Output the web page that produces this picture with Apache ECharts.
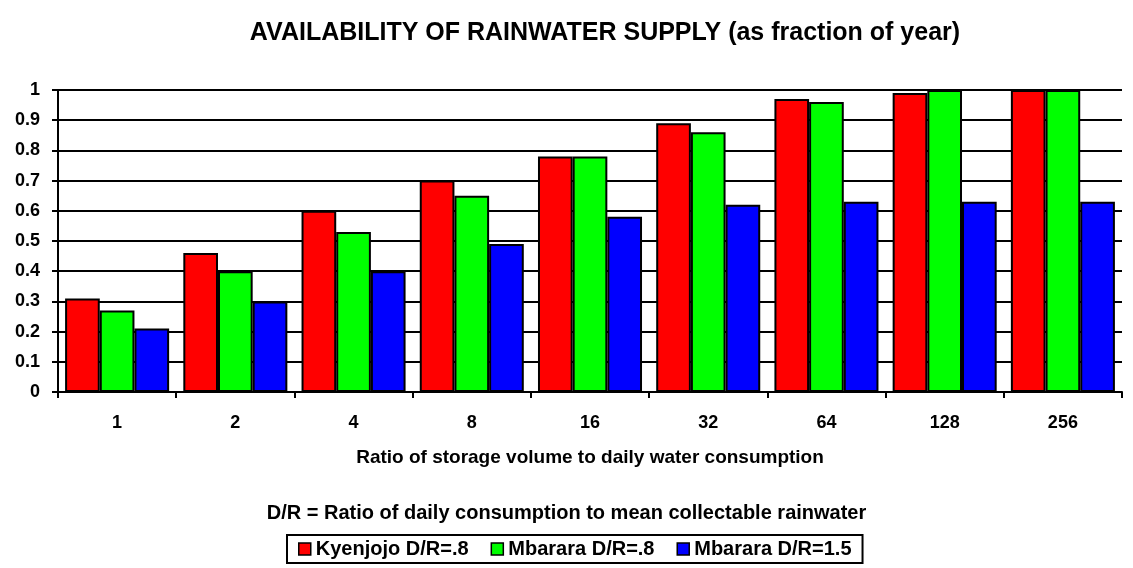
<!DOCTYPE html>
<html>
<head>
<meta charset="utf-8">
<script src="https://cdn.jsdelivr.net/npm/echarts@6/dist/echarts.min.js"></script>
<style>
  html, body { margin: 0; padding: 0; background: #fff; }
  #main { width: 1133px; height: 568px; }
</style>
</head>
<body>
<div id="main"></div>
<script>
// storage ratio categories
const ratios = ['1', '2', '4', '8', '16', '32', '64', '128', '256'];
const kyenjojo08 = [0.31, 0.46, 0.60, 0.70, 0.78, 0.89, 0.97, 0.99, 1.0];
const mbarara08 = [0.27, 0.40, 0.53, 0.65, 0.78, 0.86, 0.96, 1.0, 1.0];
const mbarara15 = [0.21, 0.30, 0.40, 0.49, 0.58, 0.62, 0.63, 0.63, 0.63];

const font = 'Liberation Sans, Arial, sans-serif';
const chart = echarts.init(document.getElementById('main'));

function barSeries(name, data, color) {
  return {
    name: name,
    type: 'bar',
    data: data,
    barGap: '0%',
    barCategoryGap: '12%',
    itemStyle: { color: color, borderColor: '#000', borderWidth: 2 }
  };
}

chart.setOption({
  animation: false,
  textStyle: { fontFamily: font },
  title: {
    text: 'AVAILABILITY OF RAINWATER SUPPLY (as fraction of year)',
    left: 600, top: 16, textAlign: 'center',
    textStyle: { fontSize: 25, fontWeight: 'bold', color: '#000', fontFamily: font }
  },
  grid: { left: 58, right: 11, top: 90, bottom: 176 },
  legend: {
    data: ['Kyenjojo D/R=.8', 'Mbarara D/R=.8', 'Mbarara D/R=1.5'],
    left: 287, top: 535,
    padding: [4, 11, 4, 11],
    itemGap: 22,
    itemWidth: 12, itemHeight: 12,
    icon: 'rect',
    itemStyle: { borderColor: '#000', borderWidth: 1.5 },
    borderColor: '#000', borderWidth: 2,
    textStyle: { fontSize: 20, fontWeight: 'bold', color: '#000', fontFamily: font }
  },
  graphic: [{
    type: 'text',
    left: 'center',
    top: 503,
    style: {
      text: 'D/R = Ratio of daily consumption to mean collectable rainwater',
      font: 'bold 20px ' + font,
      fill: '#000'
    }
  }],
  xAxis: {
    type: 'category',
    data: ratios,
    name: 'Ratio of storage volume to daily water consumption',
    nameLocation: 'middle',
    nameGap: 56,
    nameTextStyle: { fontSize: 19, fontWeight: 'bold', color: '#000', fontFamily: font },
    axisLine: { lineStyle: { color: '#000', width: 2 } },
    axisTick: { show: true, length: 6, lineStyle: { color: '#000', width: 2 } },
    axisLabel: { fontSize: 18, fontWeight: 'bold', color: '#000', margin: 22 }
  },
  yAxis: {
    type: 'value',
    min: 0, max: 1, interval: 0.1,
    axisLine: { show: true, lineStyle: { color: '#000', width: 2 } },
    axisTick: { show: true, length: 6, lineStyle: { color: '#000', width: 2 } },
    splitLine: { lineStyle: { color: '#000', width: 2 } },
    axisLabel: {
      fontSize: 18, fontWeight: 'bold', color: '#000', margin: 18,
      formatter: function (v) { return String(Math.round(v * 10) / 10); }
    }
  },
  series: [
    barSeries('Kyenjojo D/R=.8', kyenjojo08, '#ff0000'),
    barSeries('Mbarara D/R=.8', mbarara08, '#00ff00'),
    barSeries('Mbarara D/R=1.5', mbarara15, '#0000ff')
  ]
});
</script>
</body>
</html>
